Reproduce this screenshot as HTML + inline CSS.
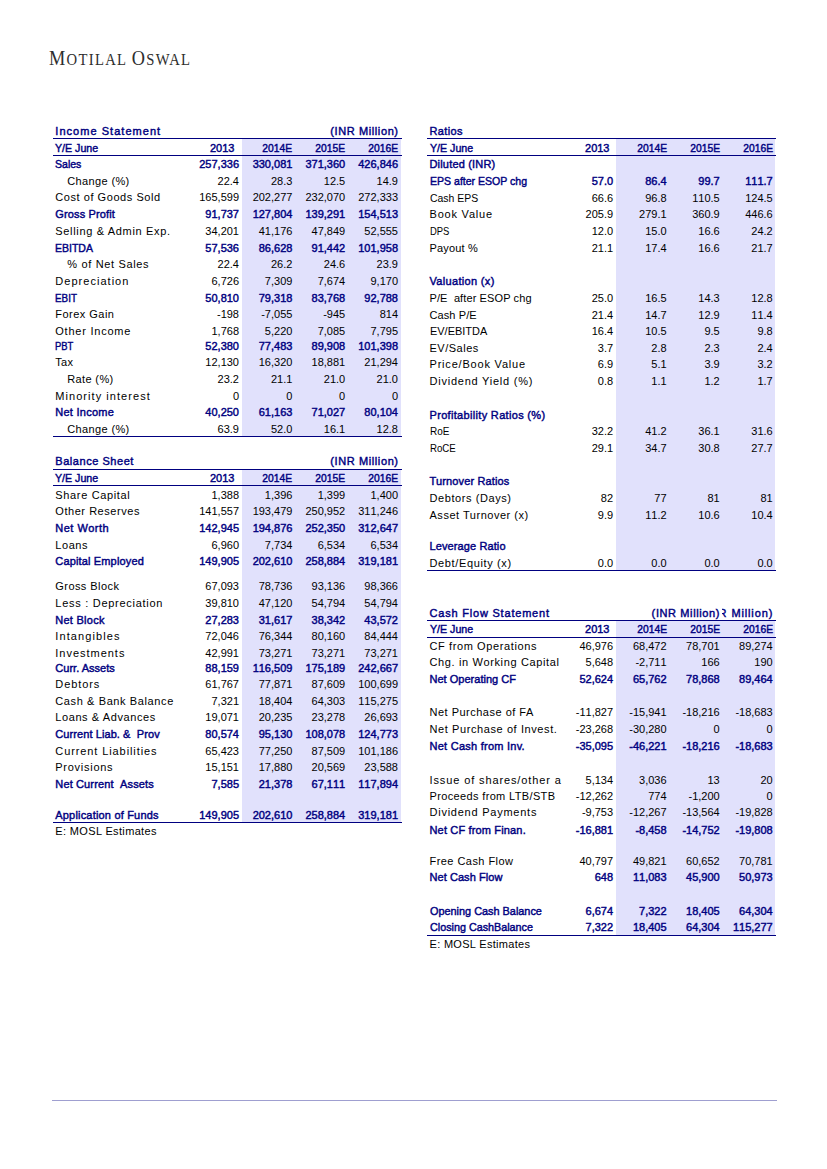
<!DOCTYPE html>
<html lang="en"><head><meta charset="utf-8"><title>Motilal Oswal - Financials and Valuation</title>
<style>
html,body{margin:0;padding:0;background:#fff;}
body{width:827px;height:1169px;position:relative;overflow:hidden;font-family:"Liberation Sans",sans-serif;}
.page{position:absolute;left:0;top:0;width:827px;height:1169px;background:#fff;}
.brand{position:absolute;left:49.3px;top:43px;font-family:"Liberation Serif",serif;color:#2e2e2e;white-space:nowrap;line-height:30px;font-size:16.8px;letter-spacing:1.5px;transform:scaleX(0.872);transform-origin:0 50%;}
.brand .cap{font-size:21px;}
.t{position:absolute;white-space:nowrap;font-size:11px;line-height:14px;height:14px;color:#000;}
.l{transform-origin:0 50%;}
.b{font-weight:normal;color:#000080;-webkit-text-stroke:0.42px #000080;}
.n{width:60px;text-align:right;font-kerning:none;}
.y{transform:scaleX(0.935);transform-origin:100% 50%;}
.shade{position:absolute;background:#e1e1fc;}
.rule{position:absolute;background:#000080;height:1px;}
.clip{position:absolute;overflow:hidden;}
.foot{position:absolute;left:52px;top:1100px;width:725px;height:1px;background:#9f9fd0;}
</style></head><body><div class="page">
<div class="brand"><span class="cap">M</span>OTILAL <span class="cap">O</span>SWAL</div>
<section class="tbl" id="inc">
<div class="shade" style="left:242px;top:138px;width:159px;height:298px"></div>
<div class="rule" style="left:53px;top:138px;width:348.5px"></div>
<div class="rule" style="left:53px;top:155px;width:348.5px"></div>
<div class="rule" style="left:53px;top:436px;width:348.5px"></div>
<span id="inc_title" class="t l b" style="left:55.3px;top:123.99px;letter-spacing:1.035px;">Income Statement</span>
<span id="inc_unit" class="t b" style="right:428.39px;top:123.99px;letter-spacing:0.608px;">(INR Million)</span>
<span id="inc_hdr" class="t l b" style="left:55.3px;top:140.89px;transform:scaleX(0.9677);">Y/E June</span>
<span class="t n b" style="left:174.4px;top:140.89px;">2013</span>
<span class="t n b y" style="left:232.4px;top:140.89px;">2014E</span>
<span class="t n b y" style="left:285.2px;top:140.89px;">2015E</span>
<span class="t n b y" style="left:338px;top:140.89px;">2016E</span>
<span id="inc_r0" class="t l b" style="left:55.3px;top:156.89px;transform:scaleX(0.9589);">Sales</span>
<span class="t n b" style="left:179px;top:156.89px;">257,336</span>
<span class="t n b" style="left:232.4px;top:156.89px;">330,081</span>
<span class="t n b" style="left:285.2px;top:156.89px;">371,360</span>
<span class="t n b" style="left:338px;top:156.89px;">426,846</span>
<span id="inc_r1" class="t l" style="left:67.3px;top:173.59px;letter-spacing:0.366px;">Change (%)</span>
<span class="t n" style="left:179px;top:173.59px;">22.4</span>
<span class="t n" style="left:232.4px;top:173.59px;">28.3</span>
<span class="t n" style="left:285.2px;top:173.59px;">12.5</span>
<span class="t n" style="left:338px;top:173.59px;">14.9</span>
<span id="inc_r2" class="t l" style="left:55.3px;top:190.39px;letter-spacing:0.553px;">Cost of Goods Sold</span>
<span class="t n" style="left:179px;top:190.39px;">165,599</span>
<span class="t n" style="left:232.4px;top:190.39px;">202,277</span>
<span class="t n" style="left:285.2px;top:190.39px;">232,070</span>
<span class="t n" style="left:338px;top:190.39px;">272,333</span>
<span id="inc_r3" class="t l b" style="left:55.3px;top:206.99px;letter-spacing:0.129px;">Gross Profit</span>
<span class="t n b" style="left:179px;top:206.99px;">91,737</span>
<span class="t n b" style="left:232.4px;top:206.99px;">127,804</span>
<span class="t n b" style="left:285.2px;top:206.99px;">139,291</span>
<span class="t n b" style="left:338px;top:206.99px;">154,513</span>
<span id="inc_r4" class="t l" style="left:55.3px;top:223.89px;letter-spacing:0.667px;">Selling &amp; Admin Exp.</span>
<span class="t n" style="left:179px;top:223.89px;">34,201</span>
<span class="t n" style="left:232.4px;top:223.89px;">41,176</span>
<span class="t n" style="left:285.2px;top:223.89px;">47,849</span>
<span class="t n" style="left:338px;top:223.89px;">52,555</span>
<span id="inc_r5" class="t l b" style="left:55.3px;top:240.89px;transform:scaleX(0.9538);">EBITDA</span>
<span class="t n b" style="left:179px;top:240.89px;">57,536</span>
<span class="t n b" style="left:232.4px;top:240.89px;">86,628</span>
<span class="t n b" style="left:285.2px;top:240.89px;">91,442</span>
<span class="t n b" style="left:338px;top:240.89px;">101,958</span>
<span id="inc_r6" class="t l" style="left:67.3px;top:256.99px;letter-spacing:0.656px;">% of Net Sales</span>
<span class="t n" style="left:179px;top:256.99px;">22.4</span>
<span class="t n" style="left:232.4px;top:256.99px;">26.2</span>
<span class="t n" style="left:285.2px;top:256.99px;">24.6</span>
<span class="t n" style="left:338px;top:256.99px;">23.9</span>
<span id="inc_r7" class="t l" style="left:55.3px;top:273.99px;letter-spacing:1.030px;">Depreciation</span>
<span class="t n" style="left:179px;top:273.99px;">6,726</span>
<span class="t n" style="left:232.4px;top:273.99px;">7,309</span>
<span class="t n" style="left:285.2px;top:273.99px;">7,674</span>
<span class="t n" style="left:338px;top:273.99px;">9,170</span>
<span id="inc_r8" class="t l b" style="left:55.3px;top:291.09px;transform:scaleX(0.8956);">EBIT</span>
<span class="t n b" style="left:179px;top:291.09px;">50,810</span>
<span class="t n b" style="left:232.4px;top:291.09px;">79,318</span>
<span class="t n b" style="left:285.2px;top:291.09px;">83,768</span>
<span class="t n b" style="left:338px;top:291.09px;">92,788</span>
<span id="inc_r9" class="t l" style="left:55.3px;top:307.39px;letter-spacing:0.475px;">Forex Gain</span>
<span class="t n" style="left:179px;top:307.39px;">-198</span>
<span class="t n" style="left:232.4px;top:307.39px;">-7,055</span>
<span class="t n" style="left:285.2px;top:307.39px;">-945</span>
<span class="t n" style="left:338px;top:307.39px;">814</span>
<span id="inc_r10" class="t l" style="left:55.3px;top:324.09px;letter-spacing:0.769px;">Other Income</span>
<span class="t n" style="left:179px;top:324.09px;">1,768</span>
<span class="t n" style="left:232.4px;top:324.09px;">5,220</span>
<span class="t n" style="left:285.2px;top:324.09px;">7,085</span>
<span class="t n" style="left:338px;top:324.09px;">7,795</span>
<span id="inc_r11" class="t l b" style="left:55.3px;top:338.99px;transform:scaleX(0.8549);">PBT</span>
<span class="t n b" style="left:179px;top:338.99px;">52,380</span>
<span class="t n b" style="left:232.4px;top:338.99px;">77,483</span>
<span class="t n b" style="left:285.2px;top:338.99px;">89,908</span>
<span class="t n b" style="left:338px;top:338.99px;">101,398</span>
<span id="inc_r12" class="t l" style="left:55.3px;top:354.89px;letter-spacing:0.287px;">Tax</span>
<span class="t n" style="left:179px;top:354.89px;">12,130</span>
<span class="t n" style="left:232.4px;top:354.89px;">16,320</span>
<span class="t n" style="left:285.2px;top:354.89px;">18,881</span>
<span class="t n" style="left:338px;top:354.89px;">21,294</span>
<span id="inc_r13" class="t l" style="left:67.3px;top:372.19px;letter-spacing:0.356px;">Rate (%)</span>
<span class="t n" style="left:179px;top:372.19px;">23.2</span>
<span class="t n" style="left:232.4px;top:372.19px;">21.1</span>
<span class="t n" style="left:285.2px;top:372.19px;">21.0</span>
<span class="t n" style="left:338px;top:372.19px;">21.0</span>
<span id="inc_r14" class="t l" style="left:55.3px;top:388.79px;letter-spacing:1.054px;">Minority interest</span>
<span class="t n" style="left:179px;top:388.79px;">0</span>
<span class="t n" style="left:232.4px;top:388.79px;">0</span>
<span class="t n" style="left:285.2px;top:388.79px;">0</span>
<span class="t n" style="left:338px;top:388.79px;">0</span>
<span id="inc_r15" class="t l b" style="left:55.3px;top:405.19px;letter-spacing:0.250px;">Net Income</span>
<span class="t n b" style="left:179px;top:405.19px;">40,250</span>
<span class="t n b" style="left:232.4px;top:405.19px;">61,163</span>
<span class="t n b" style="left:285.2px;top:405.19px;">71,027</span>
<span class="t n b" style="left:338px;top:405.19px;">80,104</span>
<span id="inc_r16" class="t l" style="left:67.3px;top:421.99px;letter-spacing:0.366px;">Change (%)</span>
<span class="t n" style="left:179px;top:421.99px;">63.9</span>
<span class="t n" style="left:232.4px;top:421.99px;">52.0</span>
<span class="t n" style="left:285.2px;top:421.99px;">16.1</span>
<span class="t n" style="left:338px;top:421.99px;">12.8</span>
</section>
<section class="tbl" id="bal">
<div class="shade" style="left:242px;top:469px;width:159px;height:353px"></div>
<div class="rule" style="left:53px;top:469px;width:348.5px"></div>
<div class="rule" style="left:53px;top:485px;width:348.5px"></div>
<div class="rule" style="left:53px;top:822px;width:348.5px"></div>
<span id="bal_title" class="t l b" style="left:55.3px;top:453.59px;letter-spacing:0.545px;">Balance Sheet</span>
<span id="bal_unit" class="t b" style="right:428.39px;top:453.59px;letter-spacing:0.608px;">(INR Million)</span>
<span id="bal_hdr" class="t l b" style="left:55.3px;top:470.99px;transform:scaleX(0.9677);">Y/E June</span>
<span class="t n b" style="left:174.4px;top:470.99px;">2013</span>
<span class="t n b y" style="left:232.4px;top:470.99px;">2014E</span>
<span class="t n b y" style="left:285.2px;top:470.99px;">2015E</span>
<span class="t n b y" style="left:338px;top:470.99px;">2016E</span>
<span id="bal_r0" class="t l" style="left:55.3px;top:488.09px;letter-spacing:0.654px;">Share Capital</span>
<span class="t n" style="left:179px;top:488.09px;">1,388</span>
<span class="t n" style="left:232.4px;top:488.09px;">1,396</span>
<span class="t n" style="left:285.2px;top:488.09px;">1,399</span>
<span class="t n" style="left:338px;top:488.09px;">1,400</span>
<span id="bal_r1" class="t l" style="left:55.3px;top:503.99px;letter-spacing:0.544px;">Other Reserves</span>
<span class="t n" style="left:179px;top:503.99px;">141,557</span>
<span class="t n" style="left:232.4px;top:503.99px;">193,479</span>
<span class="t n" style="left:285.2px;top:503.99px;">250,952</span>
<span class="t n" style="left:338px;top:503.99px;">311,246</span>
<span id="bal_r2" class="t l b" style="left:55.3px;top:520.89px;letter-spacing:0.498px;">Net Worth</span>
<span class="t n b" style="left:179px;top:520.89px;">142,945</span>
<span class="t n b" style="left:232.4px;top:520.89px;">194,876</span>
<span class="t n b" style="left:285.2px;top:520.89px;">252,350</span>
<span class="t n b" style="left:338px;top:520.89px;">312,647</span>
<span id="bal_r3" class="t l" style="left:55.3px;top:537.99px;letter-spacing:0.554px;">Loans</span>
<span class="t n" style="left:179px;top:537.99px;">6,960</span>
<span class="t n" style="left:232.4px;top:537.99px;">7,734</span>
<span class="t n" style="left:285.2px;top:537.99px;">6,534</span>
<span class="t n" style="left:338px;top:537.99px;">6,534</span>
<span id="bal_r4" class="t l b" style="left:55.3px;top:554.29px;letter-spacing:0.152px;">Capital Employed</span>
<span class="t n b" style="left:179px;top:554.29px;">149,905</span>
<span class="t n b" style="left:232.4px;top:554.29px;">202,610</span>
<span class="t n b" style="left:285.2px;top:554.29px;">258,884</span>
<span class="t n b" style="left:338px;top:554.29px;">319,181</span>
<span id="bal_r5" class="t l" style="left:55.3px;top:578.89px;letter-spacing:0.430px;">Gross Block</span>
<span class="t n" style="left:179px;top:578.89px;">67,093</span>
<span class="t n" style="left:232.4px;top:578.89px;">78,736</span>
<span class="t n" style="left:285.2px;top:578.89px;">93,136</span>
<span class="t n" style="left:338px;top:578.89px;">98,366</span>
<span id="bal_r6" class="t l" style="left:55.3px;top:595.59px;letter-spacing:0.724px;">Less : Depreciation</span>
<span class="t n" style="left:179px;top:595.59px;">39,810</span>
<span class="t n" style="left:232.4px;top:595.59px;">47,120</span>
<span class="t n" style="left:285.2px;top:595.59px;">54,794</span>
<span class="t n" style="left:338px;top:595.59px;">54,794</span>
<span id="bal_r7" class="t l b" style="left:55.3px;top:612.59px;letter-spacing:0.253px;">Net Block</span>
<span class="t n b" style="left:179px;top:612.59px;">27,283</span>
<span class="t n b" style="left:232.4px;top:612.59px;">31,617</span>
<span class="t n b" style="left:285.2px;top:612.59px;">38,342</span>
<span class="t n b" style="left:338px;top:612.59px;">43,572</span>
<span id="bal_r8" class="t l" style="left:55.3px;top:628.89px;letter-spacing:1.098px;">Intangibles</span>
<span class="t n" style="left:179px;top:628.89px;">72,046</span>
<span class="t n" style="left:232.4px;top:628.89px;">76,344</span>
<span class="t n" style="left:285.2px;top:628.89px;">80,160</span>
<span class="t n" style="left:338px;top:628.89px;">84,444</span>
<span id="bal_r9" class="t l" style="left:55.3px;top:645.99px;letter-spacing:0.979px;">Investments</span>
<span class="t n" style="left:179px;top:645.99px;">42,991</span>
<span class="t n" style="left:232.4px;top:645.99px;">73,271</span>
<span class="t n" style="left:285.2px;top:645.99px;">73,271</span>
<span class="t n" style="left:338px;top:645.99px;">73,271</span>
<span id="bal_r10" class="t l b" style="left:55.3px;top:660.89px;letter-spacing:0.018px;">Curr. Assets</span>
<span class="t n b" style="left:179px;top:660.89px;">88,159</span>
<span class="t n b" style="left:232.4px;top:660.89px;">116,509</span>
<span class="t n b" style="left:285.2px;top:660.89px;">175,189</span>
<span class="t n b" style="left:338px;top:660.89px;">242,667</span>
<span id="bal_r11" class="t l" style="left:55.3px;top:676.79px;letter-spacing:0.911px;">Debtors</span>
<span class="t n" style="left:179px;top:676.79px;">61,767</span>
<span class="t n" style="left:232.4px;top:676.79px;">77,871</span>
<span class="t n" style="left:285.2px;top:676.79px;">87,609</span>
<span class="t n" style="left:338px;top:676.79px;">100,699</span>
<span id="bal_r12" class="t l" style="left:55.3px;top:693.89px;letter-spacing:0.610px;">Cash &amp; Bank Balance</span>
<span class="t n" style="left:179px;top:693.89px;">7,321</span>
<span class="t n" style="left:232.4px;top:693.89px;">18,404</span>
<span class="t n" style="left:285.2px;top:693.89px;">64,303</span>
<span class="t n" style="left:338px;top:693.89px;">115,275</span>
<span id="bal_r13" class="t l" style="left:55.3px;top:710.39px;letter-spacing:0.585px;">Loans &amp; Advances</span>
<span class="t n" style="left:179px;top:710.39px;">19,071</span>
<span class="t n" style="left:232.4px;top:710.39px;">20,235</span>
<span class="t n" style="left:285.2px;top:710.39px;">23,278</span>
<span class="t n" style="left:338px;top:710.39px;">26,693</span>
<span id="bal_r14" class="t l b" style="left:55.3px;top:727.09px;letter-spacing:0.084px;">Current Liab. &amp; &nbsp;Prov</span>
<span class="t n b" style="left:179px;top:727.09px;">80,574</span>
<span class="t n b" style="left:232.4px;top:727.09px;">95,130</span>
<span class="t n b" style="left:285.2px;top:727.09px;">108,078</span>
<span class="t n b" style="left:338px;top:727.09px;">124,773</span>
<span id="bal_r15" class="t l" style="left:55.3px;top:743.79px;letter-spacing:0.901px;">Current Liabilities</span>
<span class="t n" style="left:179px;top:743.79px;">65,423</span>
<span class="t n" style="left:232.4px;top:743.79px;">77,250</span>
<span class="t n" style="left:285.2px;top:743.79px;">87,509</span>
<span class="t n" style="left:338px;top:743.79px;">101,186</span>
<span id="bal_r16" class="t l" style="left:55.3px;top:760.29px;letter-spacing:0.728px;">Provisions</span>
<span class="t n" style="left:179px;top:760.29px;">15,151</span>
<span class="t n" style="left:232.4px;top:760.29px;">17,880</span>
<span class="t n" style="left:285.2px;top:760.29px;">20,569</span>
<span class="t n" style="left:338px;top:760.29px;">23,588</span>
<span id="bal_r17" class="t l b" style="left:55.3px;top:776.69px;letter-spacing:0.140px;">Net Current &nbsp;Assets</span>
<span class="t n b" style="left:179px;top:776.69px;">7,585</span>
<span class="t n b" style="left:232.4px;top:776.69px;">21,378</span>
<span class="t n b" style="left:285.2px;top:776.69px;">67,111</span>
<span class="t n b" style="left:338px;top:776.69px;">117,894</span>
<span id="bal_r18" class="t l b" style="left:55.3px;top:807.79px;letter-spacing:0.186px;">Application of Funds</span>
<span class="t n b" style="left:179px;top:807.79px;">149,905</span>
<span class="t n b" style="left:232.4px;top:807.79px;">202,610</span>
<span class="t n b" style="left:285.2px;top:807.79px;">258,884</span>
<span class="t n b" style="left:338px;top:807.79px;">319,181</span>
<span id="bal_note" class="t l" style="left:55.3px;top:823.59px;letter-spacing:0.352px;">E: MOSL Estimates</span>
</section>
<section class="tbl" id="rat">
<div class="shade" style="left:616px;top:138px;width:159px;height:432px"></div>
<div class="rule" style="left:427px;top:138px;width:348.5px"></div>
<div class="rule" style="left:427px;top:155px;width:348.5px"></div>
<div class="rule" style="left:427px;top:570px;width:348.5px"></div>
<span id="rat_title" class="t l b" style="left:429.5px;top:123.69px;letter-spacing:0.362px;">Ratios</span>
<span id="rat_hdr" class="t l b" style="left:429.5px;top:140.79px;transform:scaleX(0.9677);">Y/E June</span>
<span class="t n b" style="left:549.5px;top:140.79px;">2013</span>
<span class="t n b y" style="left:606.6px;top:140.79px;">2014E</span>
<span class="t n b y" style="left:659.7px;top:140.79px;">2015E</span>
<span class="t n b y" style="left:712.7px;top:140.79px;">2016E</span>
<span id="rat_r0" class="t l b" style="left:429.5px;top:156.89px;letter-spacing:0.177px;">Diluted (INR)</span>
<span id="rat_r1" class="t l b" style="left:429.5px;top:173.99px;transform:scaleX(0.9586);">EPS after ESOP chg</span>
<span class="t n b" style="left:553.1px;top:173.99px;">57.0</span>
<span class="t n b" style="left:606.6px;top:173.99px;">86.4</span>
<span class="t n b" style="left:659.7px;top:173.99px;">99.7</span>
<span class="t n b" style="left:712.7px;top:173.99px;">111.7</span>
<span id="rat_r2" class="t l" style="left:429.5px;top:190.59px;transform:scaleX(0.9478);">Cash EPS</span>
<span class="t n" style="left:553.1px;top:190.59px;">66.6</span>
<span class="t n" style="left:606.6px;top:190.59px;">96.8</span>
<span class="t n" style="left:659.7px;top:190.59px;">110.5</span>
<span class="t n" style="left:712.7px;top:190.59px;">124.5</span>
<span id="rat_r3" class="t l" style="left:429.5px;top:207.19px;letter-spacing:0.794px;">Book Value</span>
<span class="t n" style="left:553.1px;top:207.19px;">205.9</span>
<span class="t n" style="left:606.6px;top:207.19px;">279.1</span>
<span class="t n" style="left:659.7px;top:207.19px;">360.9</span>
<span class="t n" style="left:712.7px;top:207.19px;">446.6</span>
<span id="rat_r4" class="t l" style="left:429.5px;top:223.69px;transform:scaleX(0.8575);">DPS</span>
<span class="t n" style="left:553.1px;top:223.69px;">12.0</span>
<span class="t n" style="left:606.6px;top:223.69px;">15.0</span>
<span class="t n" style="left:659.7px;top:223.69px;">16.6</span>
<span class="t n" style="left:712.7px;top:223.69px;">24.2</span>
<span id="rat_r5" class="t l" style="left:429.5px;top:241.09px;letter-spacing:0.187px;">Payout %</span>
<span class="t n" style="left:553.1px;top:241.09px;">21.1</span>
<span class="t n" style="left:606.6px;top:241.09px;">17.4</span>
<span class="t n" style="left:659.7px;top:241.09px;">16.6</span>
<span class="t n" style="left:712.7px;top:241.09px;">21.7</span>
<span id="rat_r6" class="t l b" style="left:429.5px;top:273.99px;letter-spacing:0.322px;">Valuation (x)</span>
<span id="rat_r7" class="t l" style="left:429.5px;top:290.89px;letter-spacing:0.107px;">P/E &nbsp;after ESOP chg</span>
<span class="t n" style="left:553.1px;top:290.89px;">25.0</span>
<span class="t n" style="left:606.6px;top:290.89px;">16.5</span>
<span class="t n" style="left:659.7px;top:290.89px;">14.3</span>
<span class="t n" style="left:712.7px;top:290.89px;">12.8</span>
<span id="rat_r8" class="t l" style="left:429.5px;top:307.59px;letter-spacing:0.104px;">Cash P/E</span>
<span class="t n" style="left:553.1px;top:307.59px;">21.4</span>
<span class="t n" style="left:606.6px;top:307.59px;">14.7</span>
<span class="t n" style="left:659.7px;top:307.59px;">12.9</span>
<span class="t n" style="left:712.7px;top:307.59px;">11.4</span>
<span id="rat_r9" class="t l" style="left:429.5px;top:323.99px;transform:scaleX(0.9953);">EV/EBITDA</span>
<span class="t n" style="left:553.1px;top:323.99px;">16.4</span>
<span class="t n" style="left:606.6px;top:323.99px;">10.5</span>
<span class="t n" style="left:659.7px;top:323.99px;">9.5</span>
<span class="t n" style="left:712.7px;top:323.99px;">9.8</span>
<span id="rat_r10" class="t l" style="left:429.5px;top:341.09px;letter-spacing:0.507px;">EV/Sales</span>
<span class="t n" style="left:553.1px;top:341.09px;">3.7</span>
<span class="t n" style="left:606.6px;top:341.09px;">2.8</span>
<span class="t n" style="left:659.7px;top:341.09px;">2.3</span>
<span class="t n" style="left:712.7px;top:341.09px;">2.4</span>
<span id="rat_r11" class="t l" style="left:429.5px;top:357.19px;letter-spacing:0.801px;">Price/Book Value</span>
<span class="t n" style="left:553.1px;top:357.19px;">6.9</span>
<span class="t n" style="left:606.6px;top:357.19px;">5.1</span>
<span class="t n" style="left:659.7px;top:357.19px;">3.9</span>
<span class="t n" style="left:712.7px;top:357.19px;">3.2</span>
<span id="rat_r12" class="t l" style="left:429.5px;top:373.79px;letter-spacing:0.766px;">Dividend Yield (%)</span>
<span class="t n" style="left:553.1px;top:373.79px;">0.8</span>
<span class="t n" style="left:606.6px;top:373.79px;">1.1</span>
<span class="t n" style="left:659.7px;top:373.79px;">1.2</span>
<span class="t n" style="left:712.7px;top:373.79px;">1.7</span>
<span id="rat_r13" class="t l b" style="left:429.5px;top:407.59px;letter-spacing:0.322px;">Profitability Ratios (%)</span>
<span id="rat_r14" class="t l" style="left:429.5px;top:424.09px;transform:scaleX(0.9063);">RoE</span>
<span class="t n" style="left:553.1px;top:424.09px;">32.2</span>
<span class="t n" style="left:606.6px;top:424.09px;">41.2</span>
<span class="t n" style="left:659.7px;top:424.09px;">36.1</span>
<span class="t n" style="left:712.7px;top:424.09px;">31.6</span>
<span id="rat_r15" class="t l" style="left:429.5px;top:440.99px;transform:scaleX(0.8792);">RoCE</span>
<span class="t n" style="left:553.1px;top:440.99px;">29.1</span>
<span class="t n" style="left:606.6px;top:440.99px;">34.7</span>
<span class="t n" style="left:659.7px;top:440.99px;">30.8</span>
<span class="t n" style="left:712.7px;top:440.99px;">27.7</span>
<span id="rat_r16" class="t l b" style="left:429.5px;top:474.09px;letter-spacing:0.140px;">Turnover Ratios</span>
<span id="rat_r17" class="t l" style="left:429.5px;top:490.89px;letter-spacing:0.579px;">Debtors (Days)</span>
<span class="t n" style="left:553.1px;top:490.89px;">82</span>
<span class="t n" style="left:606.6px;top:490.89px;">77</span>
<span class="t n" style="left:659.7px;top:490.89px;">81</span>
<span class="t n" style="left:712.7px;top:490.89px;">81</span>
<span id="rat_r18" class="t l" style="left:429.5px;top:507.59px;letter-spacing:0.520px;">Asset Turnover (x)</span>
<span class="t n" style="left:553.1px;top:507.59px;">9.9</span>
<span class="t n" style="left:606.6px;top:507.59px;">11.2</span>
<span class="t n" style="left:659.7px;top:507.59px;">10.6</span>
<span class="t n" style="left:712.7px;top:507.59px;">10.4</span>
<span id="rat_r19" class="t l b" style="left:429.5px;top:539.39px;letter-spacing:0.107px;">Leverage Ratio</span>
<span id="rat_r20" class="t l" style="left:429.5px;top:555.69px;letter-spacing:0.632px;">Debt/Equity (x)</span>
<span class="t n" style="left:553.1px;top:555.69px;">0.0</span>
<span class="t n" style="left:606.6px;top:555.69px;">0.0</span>
<span class="t n" style="left:659.7px;top:555.69px;">0.0</span>
<span class="t n" style="left:712.7px;top:555.69px;">0.0</span>
</section>
<section class="tbl" id="cfs">
<div class="shade" style="left:616px;top:620px;width:159px;height:315px"></div>
<div class="rule" style="left:427px;top:620px;width:348.5px"></div>
<div class="rule" style="left:427px;top:637px;width:348.5px"></div>
<div class="rule" style="left:427px;top:935px;width:348.5px"></div>
<span id="cfs_title" class="t l b" style="left:429.5px;top:605.99px;letter-spacing:0.797px;">Cash Flow Statement</span>
<span class="t b" style="right:106.99px;top:605.99px;letter-spacing:0.608px;">(INR Million)</span>
<div class="clip" style="left:722.3px;top:605.99px;width:53.1px;height:14px"><span class="t b" style="right:2.24px;top:0;letter-spacing:0.86px;word-spacing:0.3px">(INR Million)</span></div>
<span id="cfs_hdr" class="t l b" style="left:429.5px;top:622.49px;transform:scaleX(0.9677);">Y/E June</span>
<span class="t n b" style="left:549.5px;top:622.49px;">2013</span>
<span class="t n b y" style="left:606.6px;top:622.49px;">2014E</span>
<span class="t n b y" style="left:659.7px;top:622.49px;">2015E</span>
<span class="t n b y" style="left:712.7px;top:622.49px;">2016E</span>
<span id="cfs_r0" class="t l" style="left:429.5px;top:638.99px;letter-spacing:0.606px;">CF from Operations</span>
<span class="t n" style="left:553.1px;top:638.99px;">46,976</span>
<span class="t n" style="left:606.6px;top:638.99px;">68,472</span>
<span class="t n" style="left:659.7px;top:638.99px;">78,701</span>
<span class="t n" style="left:712.7px;top:638.99px;">89,274</span>
<span id="cfs_r1" class="t l" style="left:429.5px;top:655.49px;letter-spacing:0.643px;">Chg. in Working Capital</span>
<span class="t n" style="left:553.1px;top:655.49px;">5,648</span>
<span class="t n" style="left:606.6px;top:655.49px;">-2,711</span>
<span class="t n" style="left:659.7px;top:655.49px;">166</span>
<span class="t n" style="left:712.7px;top:655.49px;">190</span>
<span id="cfs_r2" class="t l b" style="left:429.5px;top:671.79px;letter-spacing:0.020px;">Net Operating CF</span>
<span class="t n b" style="left:553.1px;top:671.79px;">52,624</span>
<span class="t n b" style="left:606.6px;top:671.79px;">65,762</span>
<span class="t n b" style="left:659.7px;top:671.79px;">78,868</span>
<span class="t n b" style="left:712.7px;top:671.79px;">89,464</span>
<span id="cfs_r3" class="t l" style="left:429.5px;top:705.39px;letter-spacing:0.495px;">Net Purchase of FA</span>
<span class="t n" style="left:553.1px;top:705.39px;">-11,827</span>
<span class="t n" style="left:606.6px;top:705.39px;">-15,941</span>
<span class="t n" style="left:659.7px;top:705.39px;">-18,216</span>
<span class="t n" style="left:712.7px;top:705.39px;">-18,683</span>
<span id="cfs_r4" class="t l" style="left:429.5px;top:722.39px;letter-spacing:0.593px;">Net Purchase of Invest.</span>
<span class="t n" style="left:553.1px;top:722.39px;">-23,268</span>
<span class="t n" style="left:606.6px;top:722.39px;">-30,280</span>
<span class="t n" style="left:659.7px;top:722.39px;">0</span>
<span class="t n" style="left:712.7px;top:722.39px;">0</span>
<span id="cfs_r5" class="t l b" style="left:429.5px;top:738.69px;letter-spacing:0.253px;">Net Cash from Inv.</span>
<span class="t n b" style="left:553.1px;top:738.69px;">-35,095</span>
<span class="t n b" style="left:606.6px;top:738.69px;">-46,221</span>
<span class="t n b" style="left:659.7px;top:738.69px;">-18,216</span>
<span class="t n b" style="left:712.7px;top:738.69px;">-18,683</span>
<span id="cfs_r6" class="t l" style="left:429.5px;top:772.69px;letter-spacing:0.882px;">Issue of shares/other a</span>
<span class="t n" style="left:553.1px;top:772.69px;">5,134</span>
<span class="t n" style="left:606.6px;top:772.69px;">3,036</span>
<span class="t n" style="left:659.7px;top:772.69px;">13</span>
<span class="t n" style="left:712.7px;top:772.69px;">20</span>
<span id="cfs_r7" class="t l" style="left:429.5px;top:788.69px;letter-spacing:0.355px;">Proceeds from LTB/STB</span>
<span class="t n" style="left:553.1px;top:788.69px;">-12,262</span>
<span class="t n" style="left:606.6px;top:788.69px;">774</span>
<span class="t n" style="left:659.7px;top:788.69px;">-1,200</span>
<span class="t n" style="left:712.7px;top:788.69px;">0</span>
<span id="cfs_r8" class="t l" style="left:429.5px;top:805.49px;letter-spacing:0.757px;">Dividend Payments</span>
<span class="t n" style="left:553.1px;top:805.49px;">-9,753</span>
<span class="t n" style="left:606.6px;top:805.49px;">-12,267</span>
<span class="t n" style="left:659.7px;top:805.49px;">-13,564</span>
<span class="t n" style="left:712.7px;top:805.49px;">-19,828</span>
<span id="cfs_r9" class="t l b" style="left:429.5px;top:822.79px;letter-spacing:0.157px;">Net CF from Finan.</span>
<span class="t n b" style="left:553.1px;top:822.79px;">-16,881</span>
<span class="t n b" style="left:606.6px;top:822.79px;">-8,458</span>
<span class="t n b" style="left:659.7px;top:822.79px;">-14,752</span>
<span class="t n b" style="left:712.7px;top:822.79px;">-19,808</span>
<span id="cfs_r10" class="t l" style="left:429.5px;top:853.59px;letter-spacing:0.451px;">Free Cash Flow</span>
<span class="t n" style="left:553.1px;top:853.59px;">40,797</span>
<span class="t n" style="left:606.6px;top:853.59px;">49,821</span>
<span class="t n" style="left:659.7px;top:853.59px;">60,652</span>
<span class="t n" style="left:712.7px;top:853.59px;">70,781</span>
<span id="cfs_r11" class="t l b" style="left:429.5px;top:870.29px;letter-spacing:0.063px;">Net Cash Flow</span>
<span class="t n b" style="left:553.1px;top:870.29px;">648</span>
<span class="t n b" style="left:606.6px;top:870.29px;">11,083</span>
<span class="t n b" style="left:659.7px;top:870.29px;">45,900</span>
<span class="t n b" style="left:712.7px;top:870.29px;">50,973</span>
<span id="cfs_r12" class="t l b" style="left:429.5px;top:903.59px;transform:scaleX(0.9890);">Opening Cash Balance</span>
<span class="t n b" style="left:553.1px;top:903.59px;">6,674</span>
<span class="t n b" style="left:606.6px;top:903.59px;">7,322</span>
<span class="t n b" style="left:659.7px;top:903.59px;">18,405</span>
<span class="t n b" style="left:712.7px;top:903.59px;">64,304</span>
<span id="cfs_r13" class="t l b" style="left:429.5px;top:920.39px;transform:scaleX(0.9784);">Closing CashBalance</span>
<span class="t n b" style="left:553.1px;top:920.39px;">7,322</span>
<span class="t n b" style="left:606.6px;top:920.39px;">18,405</span>
<span class="t n b" style="left:659.7px;top:920.39px;">64,304</span>
<span class="t n b" style="left:712.7px;top:920.39px;">115,277</span>
<span id="cfs_note" class="t l" style="left:429.5px;top:936.69px;letter-spacing:0.309px;">E: MOSL Estimates</span>
</section>
<div class="foot"></div>
</div></body></html>
